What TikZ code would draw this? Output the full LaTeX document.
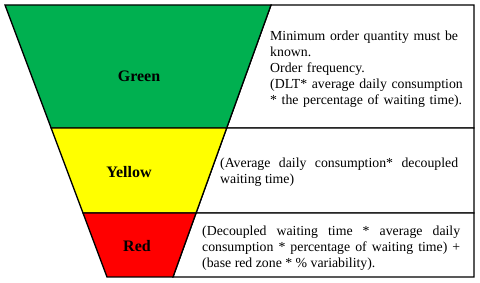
\documentclass[tikz,border=0pt]{standalone}
\usepackage{fontspec}
\setmainfont{Liberation Serif}
\usetikzlibrary{calc}
\definecolor{zgreen}{RGB}{0,176,80}
\definecolor{zyellow}{RGB}{255,255,0}
\definecolor{zred}{RGB}{255,0,0}
\tikzset{
  zone/.style={draw=black, line width=1.3pt, line join=miter},
  lbl/.style={font=\fontsize{16}{18}\selectfont\bfseries, inner sep=0pt},
  desc/.style={font=\fontsize{13.8}{16}\selectfont, inner sep=0pt, anchor=west},
}
\begin{document}
\begin{tikzpicture}[x=1pt,y=-1pt]
\useasboundingbox (0,0) rectangle (480,283);
% funnel corners
\coordinate (tl) at (5,5);
\coordinate (tr) at (271,5);
\coordinate (bl) at (107,277);
\coordinate (br) at (173,277);
\coordinate (gl) at ($(tl)!{123/272}!(bl)$);
\coordinate (gr) at ($(tr)!{123/272}!(br)$);
\coordinate (yl) at ($(tl)!{208/272}!(bl)$);
\coordinate (yr) at ($(tr)!{208/272}!(br)$);
\coordinate (R1) at (474,5);
\coordinate (R2) at (474,128);
\coordinate (R3) at (474,213);
\coordinate (R4) at (474,277);
% right boxes
\draw[zone, fill=white] (tr) -- (R1) -- (R2) -- (gr) -- cycle;
\draw[zone, fill=white] (gr) -- (R2) -- (R3) -- (yr) -- cycle;
\draw[zone, fill=white] (yr) -- (R3) -- (R4) -- (br) -- cycle;
% funnel zones
\draw[zone, fill=zgreen] (tl) -- (tr) -- (gr) -- (gl) -- cycle;
\draw[zone, fill=zyellow] (gl) -- (gr) -- (yr) -- (yl) -- cycle;
\draw[zone, fill=zred] (yl) -- (yr) -- (br) -- (bl) -- cycle;
% labels
\node[lbl] (green) at (139,76) {Green};
\node[lbl] (yellow) at (129,172) {Yellow};
\node[lbl] (red) at (137,246) {Red};
% descriptions
\node[desc, text width=200pt, align=left] (gtext) at (270,69)
  {Minimum order quantity must be\\known.\\Order frequency.\\(DLT* average daily consumption\\\relax* the percentage of waiting time).};
\node[desc, text width=238pt, align=justify] (ytext) at (220,172)
  {(Average daily consumption* decoupled\linebreak waiting time)};
\node[desc, text width=258pt, align=justify] (rtext) at (202,248)
  {(Decoupled waiting time * average daily\linebreak consumption * percentage of waiting time) +\linebreak (base red zone * \% variability).};
\end{tikzpicture}
\end{document}
